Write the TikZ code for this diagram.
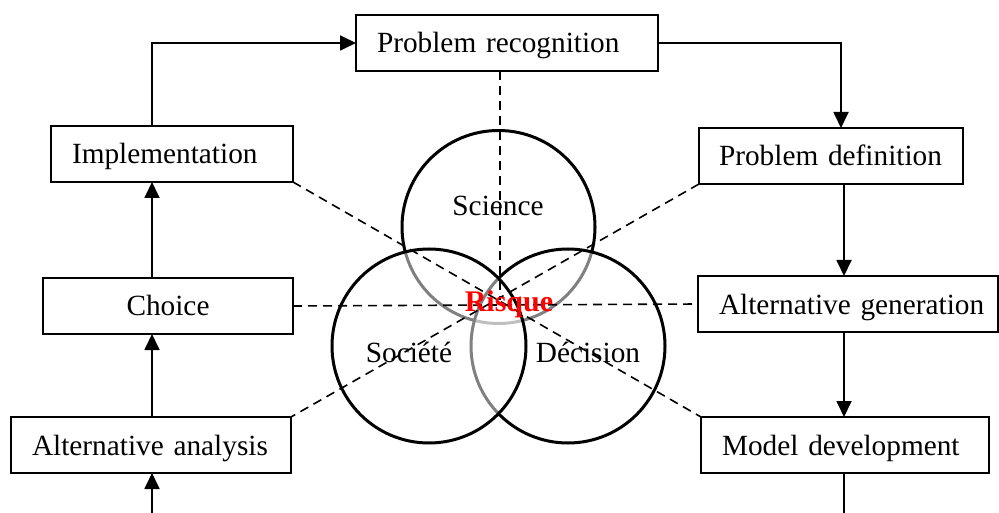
\documentclass[tikz,border=0pt]{standalone}
\usepackage{fontspec}
\setmainfont{Liberation Serif}
\usetikzlibrary{arrows.meta}
\begin{document}
\begin{tikzpicture}[x=1pt,y=-1pt,
  every node/.style={font=\fontsize{29.3}{35}\selectfont, outer sep=0pt},
  box/.style={draw, line width=2pt, inner xsep=0pt, inner ysep=0pt, text width=#1,
    minimum height=56pt, text height=22pt, text depth=2pt, align=left},
  circ/.style={draw, circle, line width=3pt, fill=white, fill opacity=0.5,
    minimum size=194pt, inner sep=0pt},
  lbl/.style={anchor=base},
  arr/.style={line width=1.8pt, -{Triangle[length=16pt,width=15pt]}},
  ln/.style={line width=1.8pt},
  dsh/.style={line width=1.6pt, dash pattern=on 9pt off 6pt}
]
\useasboundingbox (0,0) rectangle (999,513);
\fill[white] (0,0) rectangle (999,513);

% circles (order gives the grey arcs)
\node[circ, minimum size=193pt] (sci) at (498.5,227) {};
\node[circ] (dec) at (568,346) {};
\node[circ] (soc) at (429,346) {};

% boxes
\node[box=302pt] (recog) at (507,43) {\hspace*{21pt}Problem recognition};
\node[box=242pt] (impl) at (172,154) {\hspace*{21pt}Implementation};
\node[box=264pt] (pd) at (831,156) {\hspace*{20pt}Problem definition};
\node[box=250pt, align=center] (choice) at (168,306) {Choice};
\node[box=280pt] (altan) at (151,445) {\hspace*{21pt}Alternative analysis};
\node[box=300pt] (altgen) at (848,304) {\hspace*{21pt}Alternative generation};
\node[box=288pt] (model) at (845,445) {\hspace*{21pt}Model development};

% helper coordinates
\coordinate (L) at (152,0);
\coordinate (R) at (844,0);
\coordinate (Rt) at (841,0);
\coordinate (B) at (0,513);
\coordinate (ctr) at (500,300);

% solid connectors
\draw[arr] (impl.north -| L) |- (recog.west);
\draw[arr] (recog.east) -| (pd.north -| Rt);
\draw[arr] (pd.south -| R) -- (altgen.north -| R);
\draw[arr] (altgen.south -| R) -- (model.north -| R);
\draw[ln] (model.south -| R) -- (B -| R);
\draw[arr] (B -| L) -- (altan.south -| L);
\draw[arr] (altan.north -| L) -- (choice.south -| L);
\draw[arr] (choice.north -| L) -- (impl.south -| L);

% dashed connectors
\draw[dsh] (impl.south east) -- (model.north west);
\draw[dsh] (pd.south west) -- (altan.north east);
\draw[dsh] (choice.east) -- (altgen.west);
\draw[dsh] (recog.south -| ctr) -- (ctr);

% circle labels
\node[lbl] (tsci) at (498,216) {Science};
\node[lbl] (tsoc) at (409,362) {Société};
\node[lbl] (tdec) at (588,362) {Décision};
\node[lbl, font=\bfseries\fontsize{30}{36}\selectfont, text=red] (risk) at (509,312) {Risque};
\end{tikzpicture}
\end{document}
